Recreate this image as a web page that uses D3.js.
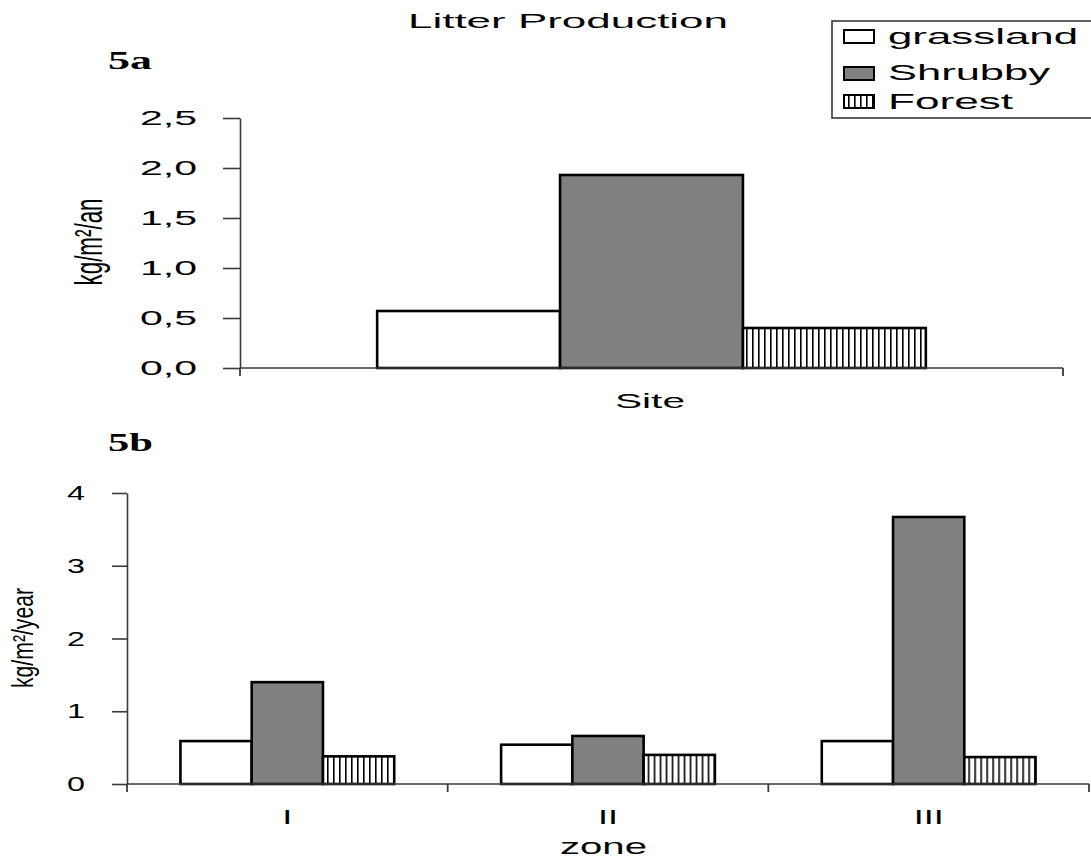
<!DOCTYPE html>
<html>
<head>
<meta charset="utf-8">
<script src="https://cdn.jsdelivr.net/npm/d3@7"></script>
<style>
  html, body { margin: 0; padding: 0; background: #fff; }
  svg { display: block; font-family: "Liberation Sans", Arial, sans-serif; }
</style>
</head>
<body>
<svg id="chart" width="1091" height="860"></svg>
<script>
// ---------------- data ----------------
const seriesNames = ["grassland", "Shrubby", "Forest"];
const categoriesA = ["Site"];
const valuesA = [0.57, 1.93, 0.40];           // grassland, Shrubby, Forest
const ticksA = [0, 0.5, 1.0, 1.5, 2.0, 2.5];

const categoriesB = ["I", "II", "III"];
const grasslandB = [0.59, 0.54, 0.59];
const shrubbyB   = [1.40, 0.66, 3.67];
const forestB    = [0.38, 0.40, 0.37];
const ticksB = [0, 1, 2, 3, 4];

const title = "Litter Production";

// ---------------- setup ----------------
const svg = d3.select("#chart");
const defs = svg.append("defs");
const pat = defs.append("pattern").attr("id", "vstripe")
  .attr("patternUnits", "userSpaceOnUse").attr("width", 6).attr("height", 10);
pat.append("rect").attr("width", 6).attr("height", 10).attr("fill", "#fff");
pat.append("rect").attr("x", 2).attr("width", 1.6).attr("height", 10).attr("fill", "#000");

const fills = { grassland: "#ffffff", Shrubby: "#808080", Forest: "url(#vstripe)" };
const AXIS = "#3a3a3a";
const commaFmt = d3.formatLocale({ decimal: ",", thousands: ".", grouping: [3], currency: ["", ""] }).format(".1f");

function stretch(sel, len) {
  return sel.attr("textLength", len).attr("lengthAdjust", "spacingAndGlyphs");
}

// title
stretch(svg.append("text").attr("x", 408).attr("y", 28).attr("font-size", 20).attr("fill", "#000").text(title), 320);

// panel labels
stretch(svg.append("text").attr("x", 108).attr("y", 69).attr("font-family", "Liberation Serif, Times New Roman, serif")
  .attr("font-weight", "bold").attr("font-size", 25).text("5a"), 44);
stretch(svg.append("text").attr("x", 108).attr("y", 451).attr("font-family", "Liberation Serif, Times New Roman, serif")
  .attr("font-weight", "bold").attr("font-size", 25).text("5b"), 45);

// ---------------- chart drawing ----------------
function drawPanel(opt) {
  const g = svg.append("g");
  const x0 = d3.scaleBand().domain(opt.categories).range([opt.left, opt.right]).padding(0);
  const bw = x0.bandwidth();
  const x1 = d3.scaleBand().domain(seriesNames).range([bw / 6, bw - bw / 6]).padding(0);
  const y = d3.scaleLinear().domain([0, opt.max]).range([opt.bottom, opt.top]);

  // bars
  const groups = g.selectAll("g.cat").data(opt.categories).enter().append("g")
    .attr("transform", d => `translate(${x0(d)},0)`);
  groups.selectAll("rect").data((d, i) => seriesNames.map((s, k) => ({ s, v: opt.values[k][i] })))
    .enter().append("rect")
    .attr("x", d => x1(d.s))
    .attr("width", x1.bandwidth())
    .attr("y", d => y(d.v))
    .attr("height", d => y(0) - y(d.v))
    .attr("fill", d => fills[d.s])
    .attr("stroke", "#000").attr("stroke-width", 2.6);

  // y axis
  const ya = g.append("g").attr("transform", `translate(${opt.left},0)`)
    .call(d3.axisLeft(y).tickValues(opt.ticks).tickFormat(opt.fmt).tickSize(opt.tickSize).tickSizeOuter(0));
  ya.select(".domain").attr("stroke", AXIS).attr("stroke-width", 1.6);
  ya.selectAll(".tick line").attr("stroke", AXIS).attr("stroke-width", 1.6);
  ya.selectAll(".tick text").attr("font-family", "Liberation Sans, Arial, sans-serif")
    .attr("font-size", opt.tickFont).attr("fill", "#000")
    .attr("text-anchor", "start").attr("x", opt.labelStart - opt.left);
  ya.selectAll(".tick text").each(function () { stretch(d3.select(this), opt.labelWidth); });

  // x axis line
  g.append("line").attr("x1", opt.left).attr("x2", opt.right)
    .attr("y1", y(0)).attr("y2", y(0)).attr("stroke", AXIS).attr("stroke-width", 1.6);
  // category boundary ticks
  const bounds = opt.categories.map(c => x0(c)).concat([x0(opt.categories[opt.categories.length - 1]) + bw]);
  g.selectAll("line.bt").data(bounds).enter().append("line")
    .attr("x1", d => d).attr("x2", d => d)
    .attr("y1", y(0)).attr("y2", y(0) + 8)
    .attr("stroke", AXIS).attr("stroke-width", 1.8);

  return { g, x0, y, bw };
}

// ---------- panel 5a ----------
const pA = drawPanel({
  categories: categoriesA, values: valuesA.map(v => [v]), left: 240, right: 1063,
  top: 118, bottom: 368, max: 2.5, ticks: ticksA, fmt: commaFmt, tickSize: 17,
  tickFont: 20, labelStart: 140, labelWidth: 57
});
stretch(pA.g.append("text").attr("x", 615).attr("y", 408).attr("font-size", 21).text(categoriesA[0]), 70);
{
  const f = 22;
  const t = pA.g.append("g").attr("transform", "translate(92,242) scale(1.75,1) rotate(-90)");
  stretch(t.append("text").attr("x", -43.5).attr("y", 0.26 * f).attr("font-size", f).text("kg/m²/an"), 87);
}

// ---------- panel 5b ----------
const pB = drawPanel({
  categories: categoriesB, values: [grasslandB, shrubbyB, forestB], left: 127, right: 1089,
  top: 493, bottom: 784, max: 4, ticks: ticksB, fmt: d3.format("d"), tickSize: 15,
  tickFont: 21, labelStart: 67, labelWidth: 18
});
const zoneLen = { I: 10, II: 20, III: 30 };
pB.g.selectAll("text.zl").data(categoriesB).enter().append("text")
  .attr("x", d => pB.x0(d) + pB.bw / 2 - zoneLen[d] / 2)
  .attr("y", 824).attr("font-size", 20).text(d => d)
  .each(function (d) { stretch(d3.select(this), zoneLen[d]); });
stretch(pB.g.append("text").attr("x", 560).attr("y", 854).attr("font-size", 22).text("zone"), 87);
{
  const f = 21;
  const t = pB.g.append("g").attr("transform", "translate(25,638) scale(1.4,1) rotate(-90)");
  stretch(t.append("text").attr("x", -50).attr("y", 0.26 * f).attr("font-size", f).text("kg/m²/year"), 100);
}

// ---------------- legend ----------------
const leg = svg.append("g");
leg.append("rect").attr("x", 832).attr("y", 21).attr("width", 270).attr("height", 97)
  .attr("fill", "#fff").attr("stroke", AXIS).attr("stroke-width", 1.6);
const legRows = [
  { s: seriesNames[0], top: 30, base: 44, len: 190 },
  { s: seriesNames[1], top: 67, base: 80, len: 162 },
  { s: seriesNames[2], top: 95, base: 109, len: 125 }
];
leg.selectAll("rect.sw").data(legRows).enter().append("rect")
  .attr("x", 844).attr("y", d => d.top).attr("width", 30).attr("height", 13)
  .attr("fill", d => fills[d.s]).attr("stroke", "#000").attr("stroke-width", 2);
leg.selectAll("text.lt").data(legRows).enter().append("text")
  .attr("x", 888).attr("y", d => d.base).attr("font-size", 22).text(d => d.s)
  .each(function (d) { stretch(d3.select(this), d.len); });
</script>
</body>
</html>
